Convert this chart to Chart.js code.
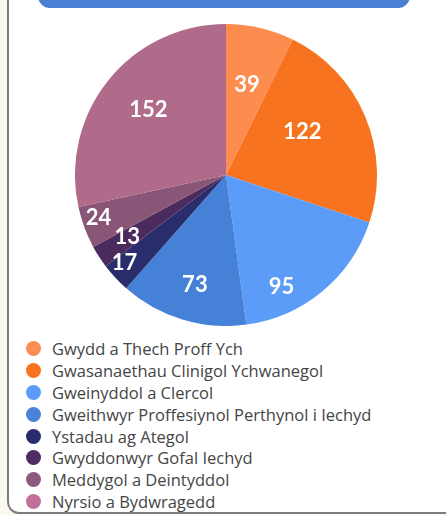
<!DOCTYPE html>
<html>
<head>
<meta charset="utf-8">
<script src="https://cdn.jsdelivr.net/npm/chart.js@4.4.0/dist/chart.umd.min.js"></script>
<style>
  html, body { margin:0; padding:0; }
  body { width:446px; height:515px; background:#fbf8ef; position:relative; overflow:hidden; font-family: "Open Sans", Lato, sans-serif; }
  #card { position:absolute; left:7px; top:-30px; width:470px; height:544px; background:#ffffff; border:2px solid #7d7d7d; border-radius:12px; box-sizing:border-box; }
  #header { position:absolute; left:38px; top:-30px; width:372px; height:38px; background:#4a7fd6; border-radius:12px; }
  #wrap { position:absolute; left:75px; top:24px; width:302px; height:302px; }
  #legend { position:absolute; left:26px; top:338px; }
  .row { height:21.8px; display:flex; align-items:center; font-size:16.5px; color:#454545; white-space:nowrap; }
  .dot { width:15px; height:15px; border-radius:50%; margin-right:11px; flex:none; }
</style>
</head>
<body>
<div id="card"></div>
<div id="header"></div>
<div id="wrap"><canvas id="c" width="302" height="302"></canvas></div>
<div id="legend"></div>
<script>
const categories = [
  "Gwydd a Thech Proff Ych",
  "Gwasanaethau Clinigol Ychwanegol",
  "Gweinyddol a Clercol",
  "Gweithwyr Proffesiynol Perthynol i Iechyd",
  "Ystadau ag Ategol",
  "Gwyddonwyr Gofal Iechyd",
  "Meddygol a Deintyddol",
  "Nyrsio a Bydwragedd"
];
const values = [39, 122, 95, 73, 17, 13, 24, 152];
const colors = ["#fd8d4e", "#f8731f", "#5a9cf8", "#4681d8", "#2a2d6b", "#4b2a5e", "#8a5677", "#b06a8a"];
const legendColors = ["#fb8d52", "#f8731f", "#5a9cf8", "#4a83d8", "#2a2d6b", "#4d2d62", "#8c5a7e", "#c0709a"];
// label placement inside each slice: [fraction along slice angle, fraction of radius]
const labelPlacement = [[0.5,0.61],[0.42,0.58],[0.71,0.83],[0.48,0.755],[0.67,0.89],[0.6,0.77],[0.62,0.89],[0.51,0.67]];

const labelPlugin = {
  id: 'sliceLabels',
  afterDatasetsDraw(chart) {
    const ctx = chart.ctx;
    const meta = chart.getDatasetMeta(0);
    ctx.save();
    ctx.fillStyle = '#ffffff';
    ctx.font = 'bold 22px Lato, "Open Sans", sans-serif';
    ctx.textAlign = 'center';
    ctx.textBaseline = 'middle';
    meta.data.forEach((arc, i) => {
      const p = arc.getProps(['x','y','startAngle','endAngle','outerRadius'], true);
      const [t, rf] = labelPlacement[i];
      const a = p.startAngle + (p.endAngle - p.startAngle) * t;
      const r = p.outerRadius * rf;
      ctx.fillText(String(values[i]), p.x + Math.cos(a) * r, p.y + Math.sin(a) * r);
    });
    ctx.restore();
  }
};

new Chart(document.getElementById('c'), {
  type: 'pie',
  data: { labels: categories, datasets: [{ data: values, backgroundColor: colors, borderWidth: 0 }] },
  options: {
    responsive: false,
    animation: false,
    layout: { padding: 0 },
    plugins: { legend: { display: false }, tooltip: { enabled: false } }
  },
  plugins: [labelPlugin]
});

const lg = document.getElementById('legend');
categories.forEach((name, i) => {
  const row = document.createElement('div');
  row.className = 'row';
  const d = document.createElement('span');
  d.className = 'dot';
  d.style.background = legendColors[i];
  const s = document.createElement('span');
  s.textContent = name;
  row.appendChild(d); row.appendChild(s);
  lg.appendChild(row);
});
</script>
</body>
</html>
